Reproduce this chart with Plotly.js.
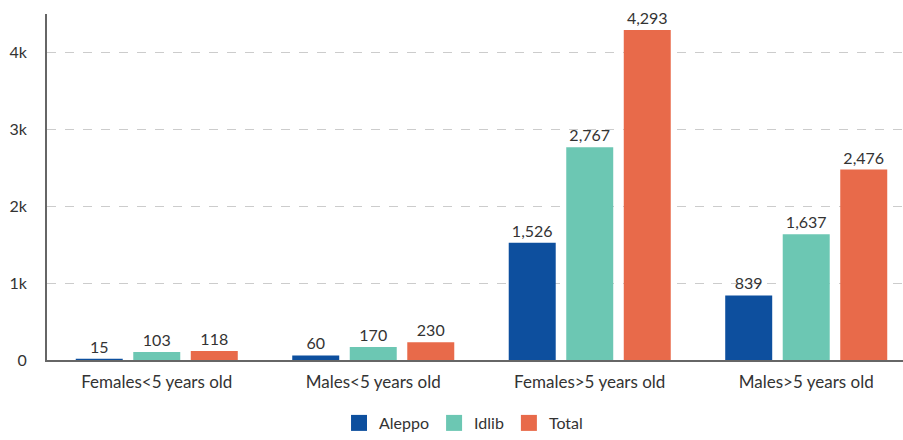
<!DOCTYPE html>
<html><head><meta charset="utf-8">
<script src="https://cdn.plot.ly/plotly-3.0.1.min.js"></script>
<style>body{margin:0;background:#fff}#chart{width:903px;height:440px}</style>
</head><body><div id="chart"></div>
<script>
const categories = ["Females<5 years old", "Males<5 years old", "Females>5 years old", "Males>5 years old"];
const aleppo = [15, 60, 1526, 839];
const idlib = [103, 170, 2767, 1637];
const total = [118, 230, 4293, 2476];
const seriesNames = ["Aleppo", "Idlib", "Total"];
const colors = ["#0d4f9e", "#6cc7b3", "#e86a4a"];
const yTickVals = [0, 1000, 2000, 3000, 4000];
const yTickText = ["0", "1k", "2k", "3k", "4k"];
const vals = [aleppo, idlib, total];
const fmt = v => v.toLocaleString("en-US");
const traces = vals.map((v, i) => ({
  type: "bar", name: seriesNames[i], x: categories, y: v,
  marker: {color: colors[i], line: {width: 0}},
  text: v.map(fmt), textposition: "outside", cliponaxis: false,
  textfont: {family: "Lato", size: 16, color: "#333"},
  hoverinfo: "none", showlegend: false
}));
seriesNames.forEach((n, i) => traces.push({
  type: "scatter", mode: "markers", name: n, x: [null], y: [null],
  marker: {symbol: "square", size: 16, color: colors[i], line: {width: 0}},
  showlegend: true, hoverinfo: "none"
}));
Plotly.newPlot("chart", traces, {
  width: 903, height: 440,
  margin: {l: 47, r: 0, t: 14, b: 79},
  paper_bgcolor: "#fff", plot_bgcolor: "#fff",
  font: {family: "Lato", size: 16, color: "#333"},
  barmode: "group", bargap: 0.203, bargroupgap: 0.183,
  xaxis: {type: "category", range: [-0.507, 3.447], showline: true, linecolor: "#666", linewidth: 2, ticks: "",
    ticklabelstandoff: 6, tickfont: {size: 17, color: "#333"}, fixedrange: true, layer: "above traces"},
  yaxis: {range: [0, 4500], tickvals: yTickVals, ticktext: yTickText,
    showline: true, linecolor: "#666", linewidth: 2, showgrid: true, gridcolor: "#ccc", griddash: "dash", gridwidth: 1,
    zeroline: false, ticks: "", ticklabelstandoff: 15, tickfont: {size: 16, color: "#333"}, fixedrange: true, layer: "above traces"},
  legend: {orientation: "h", x: 0.4866, xanchor: "center", y: -0.1816, yanchor: "middle", font: {size: 16, color: "#333"}},
  showlegend: true
}, {displayModeBar: false, staticPlot: true});
</script></body></html>
